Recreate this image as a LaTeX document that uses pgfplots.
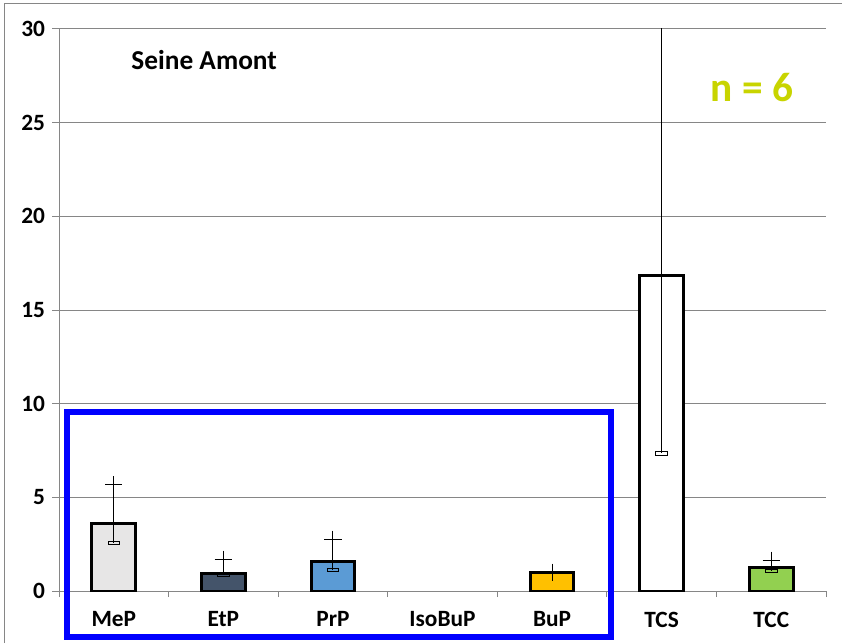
\documentclass[border=0pt]{standalone}
\usepackage{pgfplots}
\pgfplotsset{compat=1.18}
\usepackage{fontspec}
\setmainfont{Carlito}

\definecolor{gridgray}{RGB}{134,134,134}
\definecolor{mepc}{RGB}{231,230,230}
\definecolor{etpc}{RGB}{68,84,106}
\definecolor{prpc}{RGB}{91,155,213}
\definecolor{bupc}{RGB}{255,192,0}
\definecolor{tccc}{RGB}{146,208,80}
\definecolor{ngreen}{RGB}{200,212,0}

\pgfdeclareplotmark{minbar}{%
  \pgfpathrectangle{\pgfpoint{-4.4pt}{-1.2pt}}{\pgfpoint{8.8pt}{2.4pt}}%
  \pgfusepathqstroke}

\begin{document}
\begin{tikzpicture}
\path[use as bounding box] (-44.25pt,-39pt) rectangle (587.25pt,443.25pt);
\draw[gridgray,line width=0.75pt] (-40.5pt,-39pt) -- (-40.5pt,440.25pt) -- (587.25pt,440.25pt);
\begin{axis}[
  scale only axis, width=575.25pt, height=421.5pt,
  xmin=-0.5, xmax=6.5, ymin=0, ymax=30,
  axis lines*=left,
  axis line style={gridgray, line width=0.75pt},
  ytick={0,5,...,30},
  ymajorgrids, grid style={gridgray, line width=0.75pt},
  xtick={0,...,6},
  xticklabels={MeP,EtP,PrP,IsoBuP,BuP,TCS,TCC},
  minor xtick={-0.5,0.5,...,6.5},
  major x tick style={draw=none},
  tick align=outside,
  tick style={gridgray, line width=0.75pt},
  major tick length=5pt,
  minor tick length=4.5pt,
  ticklabel style={font=\fontsize{17.5}{21}\selectfont\bfseries},
  xticklabel style={yshift=-7pt},
  yticklabel style={xshift=-2pt},
  /pgf/number format/assume math mode=true,
]
% bars (mean values)
\addplot[ybar, bar width=0.4, bar shift=0pt, fill=mepc, draw=black, line width=2.25pt] coordinates {(0,3.62)};
\addplot[ybar, bar width=0.4, bar shift=0pt, fill=etpc, draw=black, line width=2.25pt] coordinates {(1,0.93)};
\addplot[ybar, bar width=0.4, bar shift=0pt, fill=prpc, draw=black, line width=2.25pt] coordinates {(2,1.6)};
\addplot[ybar, bar width=0.4, bar shift=0pt, fill=bupc, draw=black, line width=2.25pt] coordinates {(4,0.99)};
\addplot[ybar, bar width=0.4, bar shift=0pt, fill=white, draw=black, line width=2.25pt] coordinates {(5,16.82)};
\addplot[ybar, bar width=0.4, bar shift=0pt, fill=tccc, draw=black, line width=2.25pt] coordinates {(6,1.23)};
% max markers with range lines
\addplot[only marks, mark=+, mark size=6.5pt, black, line width=0.75pt,
  error bars/.cd, y dir=minus, y explicit, error mark=none,
  error bar style={black, line width=0.75pt}]
  coordinates {
  (0,5.66) -= (0,3.11)
  (1,1.69) -= (0,0.82)
  (2,2.76) -= (0,1.64)
  (4,1.0) -= (0,0)
  (5,36) -= (0,28.65)
  (6,1.64) -= (0,0.57)
  };
% min markers
\addplot[only marks, mark=minbar, black, line width=0.6pt]
  coordinates {(0,2.55) (1,0.87) (2,1.12) (5,7.35) (6,1.07)};
\node[font=\fontsize{20.5}{24}\selectfont\bfseries] at (axis cs:0.825,28.35) {Seine Amont};
\node[font=\fontsize{31}{36}\selectfont\bfseries, text=ngreen] at (axis cs:5.824,26.9) {n = 6};
\coordinate (bl) at (axis cs:-0.427,-2.455);
\coordinate (tr) at (axis cs:4.535,9.555);
\end{axis}
\draw[blue, line width=4.5pt] (bl) rectangle (tr);
\end{tikzpicture}
\end{document}
